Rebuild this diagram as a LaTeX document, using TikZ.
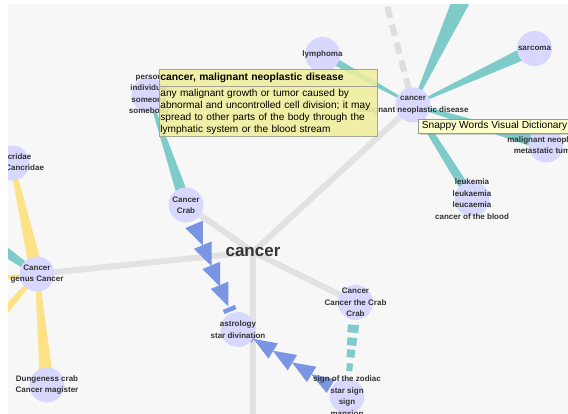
\documentclass[tikz,border=0pt]{standalone}
\usepackage{fontspec}
\setmainfont{Liberation Sans}
\usetikzlibrary{calc,decorations.markings,shadows}
\definecolor{bgc}{HTML}{F7F7F7}
\definecolor{nodec}{HTML}{D8D8FF}
\definecolor{tealc}{HTML}{7FCBC9}
\definecolor{yelc}{HTML}{FDE286}
\definecolor{grayc}{HTML}{E2E2E2}
\definecolor{gdash}{HTML}{DEDEDE}
\definecolor{bluec}{HTML}{7A95E4}
\definecolor{labc}{HTML}{333333}
\definecolor{tipc}{HTML}{EEEE9E}
\definecolor{tipd}{HTML}{A5A598}
\definecolor{snapc}{HTML}{FFFFCC}
\pgfdeclarelayer{bgl}
\pgfdeclarelayer{edges}
\pgfsetlayers{bgl,edges,main}
\newcommand{\wband}[5]{\fill[#1] ($(#2)!#4!90:(#3)$) -- ($(#3)!#5!-90:(#2)$) -- ($(#3)!#5!90:(#2)$) -- ($(#2)!#4!-90:(#3)$) -- cycle;}
\tikzset{
  vnode/.style={circle, fill=nodec, minimum size=35pt, inner sep=0pt},
  vlbl/.style={font=\fontsize{8}{11.5}\selectfont\bfseries, text=labc, align=center, inner sep=0pt},
  gline/.style={draw=grayc, line width=6pt},
  hubtxt/.style={font=\fontsize{17}{20}\selectfont\bfseries, text=labc, inner sep=0pt},
  tipbox/.style={fill=tipc, draw=tipd, line width=0.8pt, fill opacity=0.88, text opacity=1, text=black},
  snapbox/.style={fill=snapc, draw=gray!80, line width=0.6pt, drop shadow={opacity=0.35, shadow xshift=1.5pt, shadow yshift=-1.5pt}, text=black},
  bigtri/.style={fill=bluec},
}
\begin{document}
\begin{tikzpicture}[x=1pt,y=-1pt]
\useasboundingbox (0,0) rectangle (568,414);
\begin{pgfonlayer}{bgl}
\fill[white] (0,0) rectangle (568,414);
\fill[bgc] (8,4) rectangle (568,414);
\end{pgfonlayer}

% nodes
\node[vnode, label={[vlbl]center:{person\\individual\\someone\\somebody}}] (per) at (149,95) {};
\node[vnode, label={[vlbl]center:{lymphoma}}] (lym) at (322.5,54.5) {};
\node[vnode, label={[vlbl]center:{sarcoma}}] (sar) at (534.5,48.5) {};
\node[vnode, label={[vlbl]center:{cancer\\malignant neoplastic disease}}] (can) at (413,105) {};
\node[vnode, label={[vlbl]center:{malignant neoplasm\\metastatic tumor}}] (neo) at (546,145) {};
\node[vnode, label={[vlbl]center:{leukemia\\leukaemia\\leucaemia\\cancer of the blood}}] (leu) at (472,199) {};
\node[vnode, label={[vlbl]center:{Cancer\\Crab}}] (crab) at (186,205) {};
\node[vnode, label={[vlbl]center:{Cancridae\\family Cancridae}}] (cdae) at (12,163) {};
\node[vnode, label={[vlbl]center:{Cancer\\genus Cancer}}] (gen) at (37,274) {};
\node[vnode, label={[vlbl]center:{Dungeness crab\\Cancer magister}}] (dung) at (47,385) {};
\node[vnode, label={[vlbl]center:{astrology\\star divination}}] (astro) at (238,329.5) {};
\node[vnode, label={[vlbl]center:{Cancer\\Cancer the Crab\\Crab}}] (ctc) at (355.5,302.5) {};
\node[vnode, label={[vlbl]center:{sign of the zodiac\\star sign\\sign\\mansion}}] (sig) at (347,396) {};
\node[hubtxt] (hub) at (253,252) {cancer};

\coordinate (gbot) at (253,430);
\coordinate (gtop) at (385.5,0);
\coordinate (ttop) at (466,-10);
\coordinate (tleft) at (-10,241);
\coordinate (yleft) at (-10,279);
\coordinate (ydown) at (-10,328);

\begin{pgfonlayer}{edges}
% gray relations
\draw[gline] (hub.center) -- (gen.center);
\draw[gline] (hub.center) -- (crab.center);
\draw[gline] (hub.center) -- (can.center);
\draw[gline] (hub.center) -- (ctc.center);
\draw[gline] (hub.center) -- (gbot);
\draw[draw=gdash, line width=6pt, dash pattern=on 11.5pt off 7pt, dash phase=11.5pt] (gtop) -- (can.center);
% teal wedges
\wband{tealc}{per.center}{crab.center}{1pt}{6pt}
\wband{tealc}{can.center}{lym.center}{1pt}{4pt}
\wband{tealc}{can.center}{sar.center}{0.8pt}{6.5pt}
\wband{tealc}{can.center}{ttop}{1pt}{9.5pt}
\wband{tealc}{can.center}{leu.center}{2.5pt}{5pt}
\wband{tealc}{can.center}{neo.center}{1.5pt}{6pt}
\wband{tealc}{gen.center}{tleft}{2.5pt}{6pt}
% yellow wedges
\wband{yelc}{gen.center}{cdae.center}{7pt}{2pt}
\wband{yelc}{gen.center}{dung.center}{2pt}{7pt}
\wband{yelc}{gen.center}{yleft}{1pt}{2.5pt}
\wband{yelc}{gen.center}{ydown}{1.5pt}{5pt}
% blue arrow chains
\path[decorate, decoration={markings,
  mark=at position 21pt with {\fill[bigtri] (0pt,9.5pt) -- (23pt,0pt) -- (0pt,-9.5pt) -- cycle;},
  mark=at position 43.5pt with {\fill[bigtri] (0pt,9.5pt) -- (23pt,0pt) -- (0pt,-9.5pt) -- cycle;},
  mark=at position 65.5pt with {\fill[bigtri] (0pt,9.5pt) -- (23pt,0pt) -- (0pt,-9.5pt) -- cycle;},
  mark=at position 87pt with {\fill[bigtri] (0pt,9.5pt) -- (23pt,0pt) -- (0pt,-9.5pt) -- cycle;},
  mark=at position 111pt with {\fill[bigtri] (0pt,-6.5pt) rectangle (4.5pt,6.5pt);}
  }] (crab.center) -- (astro.center);
\path[decorate, decoration={markings,
  mark=at position 19pt with {\fill[bigtri] (0pt,8pt) -- (23pt,0pt) -- (0pt,-8pt) -- cycle;},
  mark=at position 41.5pt with {\fill[bigtri] (0pt,9pt) -- (23pt,0pt) -- (0pt,-9pt) -- cycle;},
  mark=at position 64pt with {\fill[bigtri] (0pt,9pt) -- (23pt,0pt) -- (0pt,-9pt) -- cycle;},
  mark=at position 86.5pt with {\fill[bigtri] (0pt,9pt) -- (23pt,0pt) -- (0pt,-9pt) -- cycle;},
  mark=at position 109pt with {\fill[bigtri] (0pt,-4pt) rectangle (3pt,4pt);}
  }] (sig.center) -- (astro.center);
% teal dashed wedge
\foreach \a/\b/\w in {0.238/0.323/11, 0.376/0.46/9.5, 0.503/0.587/8, 0.651/0.735/6}
  \draw[tealc, line width=\w pt] ($(ctc.center)!\a!(sig.center)$) -- ($(ctc.center)!\b!(sig.center)$);
\end{pgfonlayer}

% tooltips
\node[tipbox, anchor=north west, text width=216pt, minimum height=17pt, inner xsep=1pt, inner ysep=1pt, align=left,
      font=\fontsize{10.3}{12}\selectfont\bfseries] (tipT) at (159,69) {cancer, malignant neoplastic disease};
\node[tipbox, anchor=north west, text width=216pt, minimum height=50pt, inner xsep=1pt, inner ysep=1pt, align=left,
      font=\fontsize{10.1}{12}\selectfont] (tipB) at (159,86) {any malignant growth or tumor caused by\\abnormal and uncontrolled cell division; it may\\spread to other parts of the body through the\\lymphatic system or the blood stream};
\node[snapbox, anchor=north west, minimum height=14pt, inner xsep=3.5pt, inner ysep=1pt,
      font=\fontsize{10.2}{12}\selectfont] (snap) at (418,119) {Snappy Words Visual Dictionary};

% white frame margins
\fill[white] (0,0) rectangle (568,4);
\fill[white] (0,0) rectangle (8,414);
\end{tikzpicture}
\end{document}
